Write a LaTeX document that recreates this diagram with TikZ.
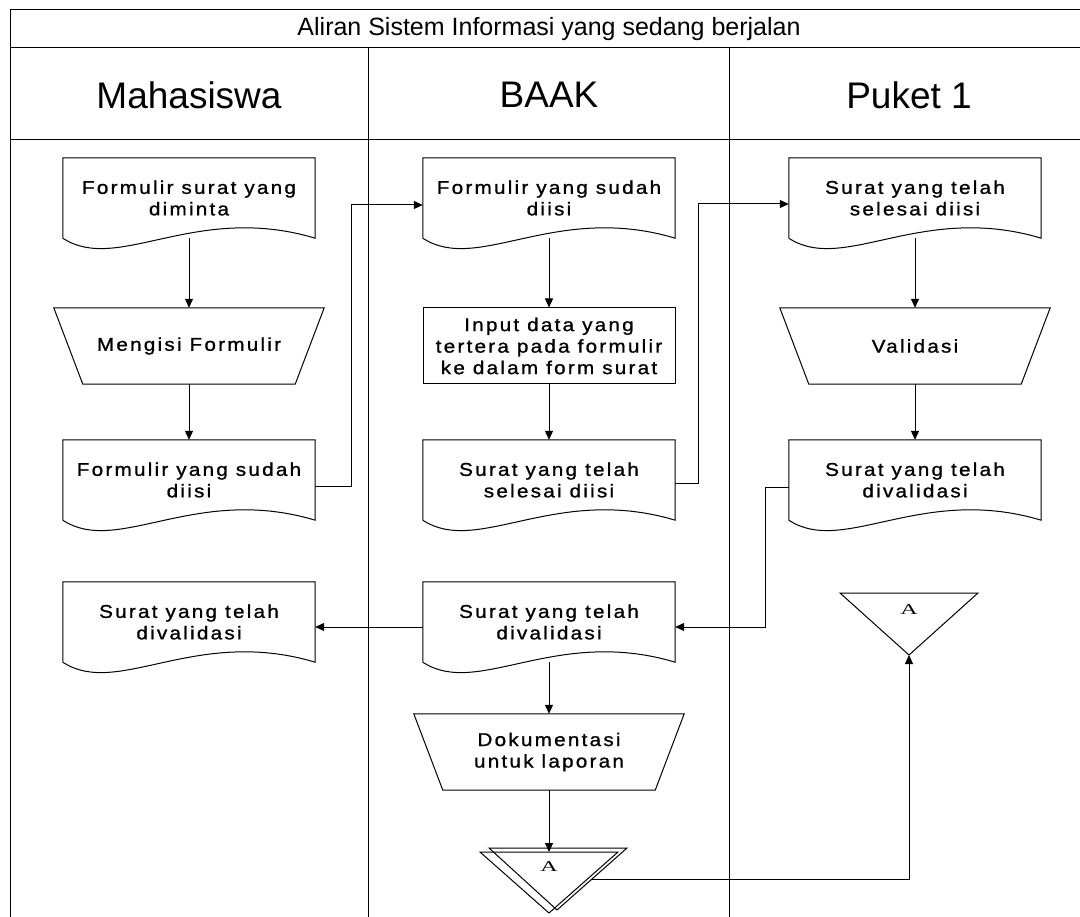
\documentclass[tikz,border=0pt]{standalone}
\usepackage{fontspec}
\setmainfont{Liberation Sans}
\newfontfamily\boxfont[LetterSpace=12,FakeStretch=1.12,FakeBold=1]{Liberation Sans}
\newfontfamily\markfont{Liberation Serif}
\usetikzlibrary{arrows.meta,calc}

% outline of a flowchart "document" symbol around a borderless node
\newcommand\docoutline[1]{%
  \draw[line] (#1.south west) -- (#1.north west) -- (#1.north east) -- (#1.south east)
    .. controls +(-120,-36) and +(55,36) .. (#1.south west);}
% outline of a "manual operation" symbol (wide top, narrow bottom)
\newcommand\manoutline[1]{%
  \draw[line] (#1.north west) -- (#1.north east) -- ([xshift=-29pt]#1.south east)
    -- ([xshift=29pt]#1.south west) -- cycle;}

\begin{document}
\begin{tikzpicture}[x=1pt,y=-1pt,
  line/.style={draw=black,line width=1pt},
  flow/.style={line,-{Triangle[length=9pt,width=8pt]}},
  lbl/.style={font=\boxfont\fontsize{18.5}{21.5}\selectfont,align=center,inner sep=0pt},
  docbox/.style={lbl,minimum width=252pt,minimum height=80pt},
  procbox/.style={lbl,line,minimum width=252pt,minimum height=76pt},
  manual/.style={lbl,minimum width=270pt,minimum height=76pt},
  lanehead/.style={font=\fontsize{37}{40}\selectfont,inner sep=0pt},
  conlabel/.style={font=\markfont\fontsize{15}{15}\selectfont,inner sep=0pt},
]
\useasboundingbox (0,0) rectangle (1080,917);
\fill[white] (0,0) rectangle (1080,917);

% swimlane frame
\draw[line] (1082,10) -- (10,10) -- (10,918);
\draw[line] (10,48) -- (1082,48);
\draw[line] (10,140) -- (1082,140);
\draw[line] (368,48) -- (368,918);
\draw[line] (729,48) -- (729,918);

\node[font=\fontsize{25}{28}\selectfont,inner sep=0pt] (title) at (549,29) {Aliran Sistem Informasi yang sedang berjalan};
\node[lanehead] (hm) at (189,95) {Mahasiswa};
\node[lanehead] (hb) at (549,95) {BAAK};
\node[lanehead] (hp) at (909,95) {Puket 1};

% Mahasiswa
\node[docbox] (m1) at (189,198) {Formulir surat yang\\diminta};
\node[manual] (m2) at (189,346) {Mengisi Formulir};
\node[docbox] (m3) at (189,480) {Formulir yang sudah\\diisi};
\node[docbox] (m4) at (189,622) {Surat yang telah\\divalidasi};

% BAAK
\node[docbox] (b1) at (549,198) {Formulir yang sudah\\diisi};
\node[procbox] (b2) at (549,346) {Input data yang\\tertera pada formulir\\ke dalam form surat};
\node[docbox] (b3) at (549,480) {Surat yang telah\\selesai diisi};
\node[docbox] (b4) at (549,622) {Surat yang telah\\divalidasi};
\node[manual] (b5) at (549,752) {Dokumentasi\\untuk laporan};

% Puket 1
\node[docbox] (p1) at (915,198) {Surat yang telah\\selesai diisi};
\node[manual] (p2) at (915,346) {Validasi};
\node[docbox] (p3) at (915,480) {Surat yang telah\\divalidasi};

\foreach \d in {m1,m3,m4,b1,b3,b4,p1,p3} {\docoutline{\d}}
\foreach \d in {m2,b5,p2} {\manoutline{\d}}

% off-page connectors
\node[conlabel] (offb) at (549,867) {\scalebox{1.6}[1]{A}};
\draw[line] ($(offb)+(-60,-19)$) -- ($(offb)+(78,-19)$) -- ($(offb)+(8,43)$) -- cycle;
\draw[line] ($(offb)+(-69,-15)$) -- ($(offb)+(69,-15)$) -- ($(offb)+(0,46)$) -- cycle;
\coordinate (offbtop) at ($(offb)+(0,-15)$);
\coordinate (offbout) at ($(offb)+(43,12)$);

\node[conlabel] (offp) at (909,610) {\scalebox{1.6}[1]{A}};
\draw[line] ($(offp)+(-69,-17)$) -- ($(offp)+(69,-17)$) -- ($(offp)+(0,45)$) -- cycle;
\coordinate (offpin) at ($(offp)+(0,45)$);

% flow
\draw[flow] (m1) -- (m2);
\draw[flow] (m2) -- (m3);
\draw[flow] ([yshift=-6pt]m3.east) -- ++(36,0) |- ([yshift=-7pt]b1.west);
\draw[flow] (b1) -- (b2);
\draw[flow] (b2) -- (b3);
\draw[flow] ([yshift=-3pt]b3.east) -- ++(23,0) |- ([yshift=-6pt]p1.west);
\draw[flow] (p1) -- (p2);
\draw[flow] (p2) -- (p3);
\draw[flow] ([yshift=-7pt]p3.west) -- ++(-23,0) |- ([yshift=-5pt]b4.east);
\draw[flow] ([yshift=-5pt]b4.west) -- ([yshift=-5pt]m4.east);
\draw[flow] (b4) -- (b5);
\draw[flow] (b5) -- (offbtop);
\draw[flow] (offbout) -| (offpin);
\end{tikzpicture}
\end{document}
